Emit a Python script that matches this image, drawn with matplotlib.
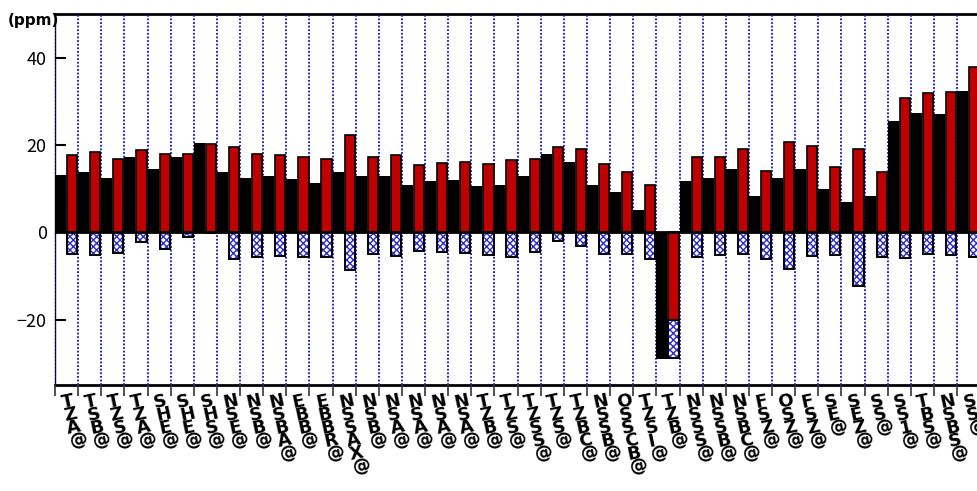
import matplotlib
matplotlib.use("Agg")
import matplotlib.pyplot as plt
import matplotlib.transforms as mtransforms
import numpy as np

plt.rcParams['font.family'] = ['Noto Sans CJK JP', 'DejaVu Sans']
plt.rcParams['hatch.linewidth'] = 1.0

categories = ["TZA@", "TSB@", "TZS@", "TZA@", "SHE@", "SHE@", "SHS@", "NSE@",
              "NSB@", "NSBA@", "EBB@", "EBBR@", "NSSAX@", "NSB@", "NSA@", "NSA@",
              "NSA@", "NSA@", "TZB@", "TZS@", "TZSS@", "TZS@", "TZBC@", "NSSB@",
              "OSSCB@", "TZSI@", "TZB@", "NSSS@", "NSSB@", "NSBC@", "FSZ@", "OSZ@",
              "FSZ@", "SE@", "SEZ@", "SS@", "SS1@", "TBS@", "NSBS@", "SS@"]

net_values = [13.0, 13.7, 12.5, 17.3, 14.6, 17.3, 20.5, 13.7, 12.5, 12.8,
              12.1, 11.2, 13.8, 12.8, 12.8, 10.9, 11.8, 12.0, 10.7, 10.9,
              12.8, 17.9, 16.2, 10.9, 9.3, 5.2, -29.0, 11.8, 12.5, 14.6,
              8.4, 12.5, 14.6, 10.0, 7.0, 8.4, 25.4, 27.3, 27.1, 32.4]

positive_values = [17.8, 18.4, 16.7, 18.9, 18.0, 18.0, 20.3, 19.5, 18.0, 17.7,
                   17.3, 16.8, 22.3, 17.3, 17.7, 15.4, 15.9, 16.1, 15.7, 16.6,
                   16.8, 19.6, 19.1, 15.7, 13.8, 10.8, -20.0, 17.3, 17.3, 19.1,
                   14.0, 20.7, 19.8, 15.0, 19.1, 13.8, 30.8, 31.9, 32.2, 37.9]

negative_values = [-4.9, -5.2, -4.7, -2.2, -3.8, -1.0, -0.2, -6.1, -5.7, -5.5,
                   -5.7, -5.7, -8.7, -5.0, -5.5, -4.4, -4.5, -4.7, -5.2, -5.7,
                   -4.5, -2.0, -3.2, -5.0, -5.0, -6.1, -8.8, -5.6, -5.2, -4.9,
                   -6.1, -8.4, -5.5, -5.2, -12.3, -5.6, -5.9, -4.9, -5.2, -5.6]

yticks = [-20, 0, 20, 40]
y_label = "(ppm)"

W, H = 977, 491
fig = plt.figure(figsize=(W / 100, H / 100), dpi=100)
left = 55 / W
bottom = (H - 385) / H
top = (H - 14) / H
n = len(categories)
step_px = 23.13
ax = fig.add_axes([left, bottom, n * step_px / W, top - bottom])

x = np.arange(n)
neg_bottom = np.minimum(np.array(positive_values), 0)

grey = '#a8a8a8'
# shadows
ax.bar(x + 0.04, net_values, width=0.48, align='edge', color=grey, zorder=2)
ax.bar(x + 0.56, positive_values, width=0.44, align='edge', color=grey, zorder=2)
ax.bar(x + 0.56, negative_values, bottom=neg_bottom, width=0.44, align='edge',
       color=grey, zorder=2)
# main bars
ax.bar(x, net_values, width=0.48, align='edge', color='black', zorder=3)
ax.bar(x + 0.52, positive_values, width=0.44, align='edge', color='#c00000',
       edgecolor='black', linewidth=1.2, zorder=3)
ax.bar(x + 0.52, negative_values, bottom=neg_bottom, width=0.44, align='edge',
       color='white', edgecolor='#2a2ad0', hatch='xxxxx', linewidth=0, zorder=3)
ax.bar(x + 0.52, negative_values, bottom=neg_bottom, width=0.44, align='edge',
       fill=False, edgecolor='black', linewidth=1.4, zorder=4)

ax.axhline(0, color='black', lw=2, zorder=5)

ax.set_xlim(0, n)
ax.set_ylim(-35, 50)
ax.set_xticks(x)
ax.set_xticklabels([])
ax.tick_params(axis='x', direction='out', length=8, width=1.2, color='#333333')
ax.set_yticks(yticks)
ax.set_yticklabels([str(v).replace('-', '\u2212') for v in yticks], fontsize=13)
ax.tick_params(axis='y', direction='in', length=8, width=1.5, pad=6)

ax.grid(axis='x', color='#1010c8', linestyle=(0, (1, 1)), linewidth=1.3, zorder=1)
ax.set_axisbelow(False)
for s in ['top', 'bottom']:
    ax.spines[s].set_linewidth(2)
ax.spines['left'].set_linewidth(1)
ax.spines['right'].set_visible(False)

trans = mtransforms.blended_transform_factory(ax.transData, ax.transAxes)
for i, lab in enumerate(categories):
    ax.text(i + 0.2, -0.025, "\n".join(lab), transform=trans, rotation=12,
            rotation_mode='anchor', ha='left', va='top', fontsize=13,
            fontweight='bold', linespacing=0.66, family='DejaVu Sans',
            clip_on=False)

fig.text(8 / W, (H - 20) / H, y_label, fontsize=11, fontweight='bold',
         ha='left', va='center', family='DejaVu Sans')

fig.savefig("out.png", dpi=100)
